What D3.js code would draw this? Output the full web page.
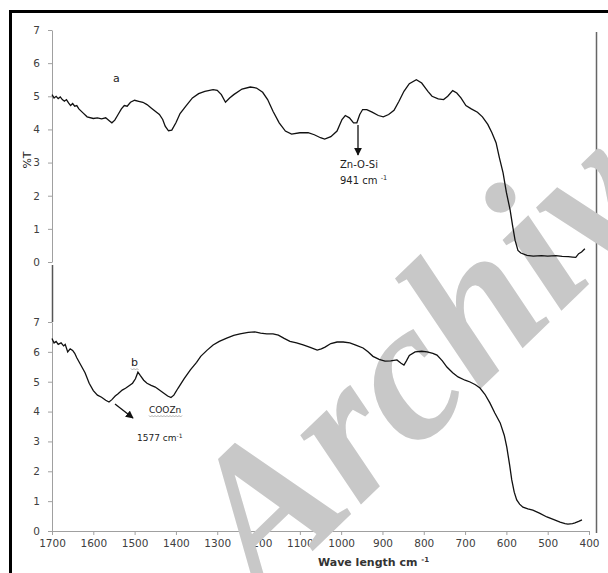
<!DOCTYPE html>
<html>
<head>
<meta charset="utf-8">
<script src="https://cdn.jsdelivr.net/npm/d3@7"></script>
<style>
  body { margin: 0; background: #fff; }
  svg { display: block; }
  .tick text { font-family: "DejaVu Sans", sans-serif; font-size: 10.5px; fill: #404040; }
  .tick line, .domain { stroke: #a0a0a0; }
</style>
</head>
<body>
<svg id="container" width="608" height="573"></svg>
<script>
// spectrum a (top) : wavenumber / %T
const waveA = [1700,1695,1690,1685,1680,1675,1670,1665,1660,1655,1650,1645,1640,1635,1625,1615,1600,1590,1580,1570,1560,1555,1548,1540,1532,1525,1518,1510,1500,1490,1480,1470,1460,1450,1440,1432,1426,1418,1410,1400,1390,1375,1360,1345,1330,1310,1300,1290,1280,1270,1260,1240,1220,1205,1190,1178,1165,1150,1135,1120,1100,1080,1065,1050,1040,1025,1010,998,990,980,970,962,955,948,938,925,910,898,885,872,860,848,835,818,805,790,780,765,752,742,730,720,710,698,685,670,658,645,635,625,617,608,600,591,585,579,572,565,550,535,515,500,480,465,450,440,432,425,418,410];
const tA = [5.05,4.95,5.0,4.93,4.98,4.9,4.85,4.9,4.8,4.72,4.78,4.7,4.72,4.62,4.5,4.38,4.33,4.35,4.32,4.35,4.25,4.2,4.28,4.45,4.62,4.72,4.7,4.82,4.88,4.85,4.82,4.75,4.65,4.55,4.45,4.3,4.1,3.96,3.98,4.2,4.48,4.72,4.95,5.08,5.15,5.2,5.18,5.05,4.82,4.95,5.05,5.22,5.28,5.25,5.12,4.9,4.55,4.2,3.95,3.86,3.9,3.9,3.84,3.75,3.71,3.78,3.95,4.3,4.42,4.35,4.2,4.2,4.45,4.6,4.6,4.52,4.42,4.38,4.45,4.58,4.85,5.15,5.38,5.5,5.4,5.15,5.0,4.92,4.9,5.0,5.17,5.1,4.95,4.72,4.62,4.52,4.38,4.15,3.9,3.6,3.15,2.69,2.1,1.57,1.1,0.66,0.35,0.27,0.2,0.18,0.19,0.18,0.19,0.17,0.16,0.15,0.14,0.25,0.3,0.4];

// spectrum b (bottom)
const waveB = [1700,1695,1690,1685,1678,1672,1668,1662,1656,1650,1645,1640,1630,1620,1610,1600,1590,1580,1570,1562,1555,1547,1540,1530,1522,1515,1505,1498,1492,1486,1478,1470,1460,1450,1440,1430,1420,1412,1405,1395,1380,1365,1350,1340,1325,1310,1295,1277,1260,1245,1225,1209,1195,1180,1165,1152,1138,1124,1108,1092,1075,1058,1048,1039,1025,1010,995,979,963,947,935,923,908,894,880,865,855,848,842,835,821,805,792,778,768,755,744,730,717,700,688,675,664,652,640,628,615,605,599,592,587,581,575,568,560,548,536,520,502,485,470,458,451,440,434,425,417];
const tB = [6.45,6.3,6.35,6.25,6.3,6.2,6.25,6.0,6.1,6.05,5.95,5.8,5.55,5.3,4.95,4.7,4.55,4.48,4.38,4.32,4.4,4.52,4.6,4.72,4.78,4.85,4.95,5.1,5.32,5.2,5.05,4.95,4.88,4.82,4.72,4.62,4.52,4.47,4.55,4.78,5.1,5.4,5.65,5.85,6.05,6.23,6.35,6.46,6.55,6.6,6.65,6.67,6.63,6.6,6.6,6.56,6.45,6.35,6.3,6.23,6.15,6.06,6.1,6.16,6.28,6.33,6.33,6.3,6.22,6.13,6.0,5.85,5.75,5.69,5.7,5.73,5.62,5.56,5.7,5.88,6.0,6.02,6.0,5.95,5.89,5.7,5.49,5.3,5.16,5.05,4.99,4.9,4.79,4.58,4.29,3.95,3.62,3.2,2.81,2.2,1.71,1.3,1.04,0.9,0.8,0.74,0.7,0.6,0.47,0.38,0.3,0.25,0.23,0.25,0.27,0.32,0.37];

const xTicks = [1700,1600,1500,1400,1300,1200,1100,1000,900,800,700,600,500,400];
const yTicks = [0,1,2,3,4,5,6,7];

const svg = d3.select("#container");

const x = d3.scaleLinear().domain([1700, 400]).range([52, 589]);
const yTop = d3.scaleLinear().domain([0, 7]).range([262, 30]);
const yBot = d3.scaleLinear().domain([0, 7]).range([531, 322]);

// outer frame (cut by the picture edge on right and bottom)
svg.append("path")
  .attr("d", "M10.5,600 V11.5 H620")
  .attr("fill", "none")
  .attr("stroke", "#000")
  .attr("stroke-width", 3);

function renderYAxis(y, cls) {
  svg.append("g")
    .attr("class", cls)
    .attr("transform", "translate(52,0)")
    .call(d3.axisLeft(y).tickValues(yTicks).tickFormat(d3.format("d"))
      .tickSize(4).tickSizeOuter(0).tickPadding(8));
}

renderYAxis(yTop, "y-top");
renderYAxis(yBot, "y-bot");

// dark segment joining the two panels
svg.append("line")
  .attr("x1", 52.5).attr("x2", 52.5)
  .attr("y1", 265).attr("y2", yBot(7))
  .attr("stroke", "#555").attr("stroke-width", 1.5);

svg.append("g")
  .attr("class", "x-axis")
  .attr("transform", `translate(0,${yBot(0)})`)
  .call(d3.axisBottom(x).tickValues(xTicks).tickFormat(d3.format("d"))
    .tickSize(4).tickSizeOuter(0).tickPadding(5));

// right border line
svg.append("line")
  .attr("x1", 596.5).attr("x2", 596.5)
  .attr("y1", 32).attr("y2", 533)
  .attr("stroke", "#666").attr("stroke-width", 1.5);

// axis titles
svg.append("text")
  .attr("transform", "translate(31,160) rotate(-90)")
  .attr("text-anchor", "middle")
  .style("font-family", "DejaVu Sans, sans-serif")
  .style("font-size", "11px")
  .attr("fill", "#222")
  .text("%T");

let xt = svg.append("text")
  .attr("x", 318).attr("y", 566)
  .style("font-family", "DejaVu Sans, sans-serif")
  .style("font-size", "11px")
  .style("font-weight", "bold")
  .attr("fill", "#333");
xt.append("tspan").text("Wave length cm ");
xt.append("tspan").attr("dy", -4).style("font-size", "7px").text("-1");

// watermark
svg.append("text")
  .attr("transform", "translate(262,600) rotate(-44)")
  .style("font-family", "Liberation Serif, serif")
  .style("font-style", "italic")
  .style("font-weight", "bold")
  .style("font-size", "200px")
  .attr("fill", "#c8c8c8")
  .text("Archiv");

// spectra
const lineTop = d3.line()
  .x(function(d) { return x(d[0]); })
  .y(function(d) { return yTop(d[1]); });
const lineBot = d3.line()
  .x(function(d) { return x(d[0]); })
  .y(function(d) { return yBot(d[1]); });

svg.append("path")
  .datum(d3.zip(waveA, tA))
  .attr("d", lineTop)
  .attr("fill", "none")
  .attr("stroke", "#111")
  .attr("stroke-width", 1.3);

svg.append("path")
  .datum(d3.zip(waveB, tB))
  .attr("d", lineBot)
  .attr("fill", "none")
  .attr("stroke", "#111")
  .attr("stroke-width", 1.3);

// annotations
svg.append("defs").append("marker")
  .attr("id", "head")
  .attr("viewBox", "0 0 10 10")
  .attr("refX", 9).attr("refY", 5)
  .attr("markerWidth", 6).attr("markerHeight", 6)
  .attr("orient", "auto")
  .append("path")
  .attr("d", "M0,0 L10,5 L0,10 z")
  .attr("fill", "#111");

function label(txt, px, py, size) {
  return svg.append("text")
    .attr("x", px).attr("y", py)
    .style("font-family", "DejaVu Sans, sans-serif")
    .style("font-size", size + "px")
    .attr("fill", "#222")
    .text(txt);
}

label("a", 113, 82, 11);
label("Zn-O-Si", 340, 168, 10);
let t941 = label("941 cm ", 340, 184, 10);
t941.append("tspan").attr("dy", -4).style("font-size", "6.5px").text("-1");

svg.append("line")
  .attr("x1", 358).attr("x2", 358)
  .attr("y1", 125).attr("y2", 155)
  .attr("stroke", "#111").attr("stroke-width", 1.3)
  .attr("marker-end", "url(#head)");

label("b", 131, 366, 11);
label("COOZn", 149, 413, 9);
let t1577 = label("1577 cm", 137, 441, 9);
t1577.append("tspan").attr("dy", -3).style("font-size", "6px").text("-1");

svg.append("line")
  .attr("x1", 115).attr("x2", 133)
  .attr("y1", 404).attr("y2", 418)
  .attr("stroke", "#111").attr("stroke-width", 1.3)
  .attr("marker-end", "url(#head)");

// spell-check squiggles under "b" and "COOZn"
function squiggle(x0, x1, yy) {
  let pts = [];
  for (let px = x0, k = 0; px <= x1; px += 1.5, k++) pts.push([px, yy + (k % 2 ? 1 : -0.5)]);
  svg.append("path")
    .attr("d", d3.line()(pts))
    .attr("fill", "none")
    .attr("stroke", "#999")
    .attr("stroke-width", 0.8);
}
squiggle(131, 139, 369);
squiggle(149, 182, 416);
</script>
</body>
</html>
